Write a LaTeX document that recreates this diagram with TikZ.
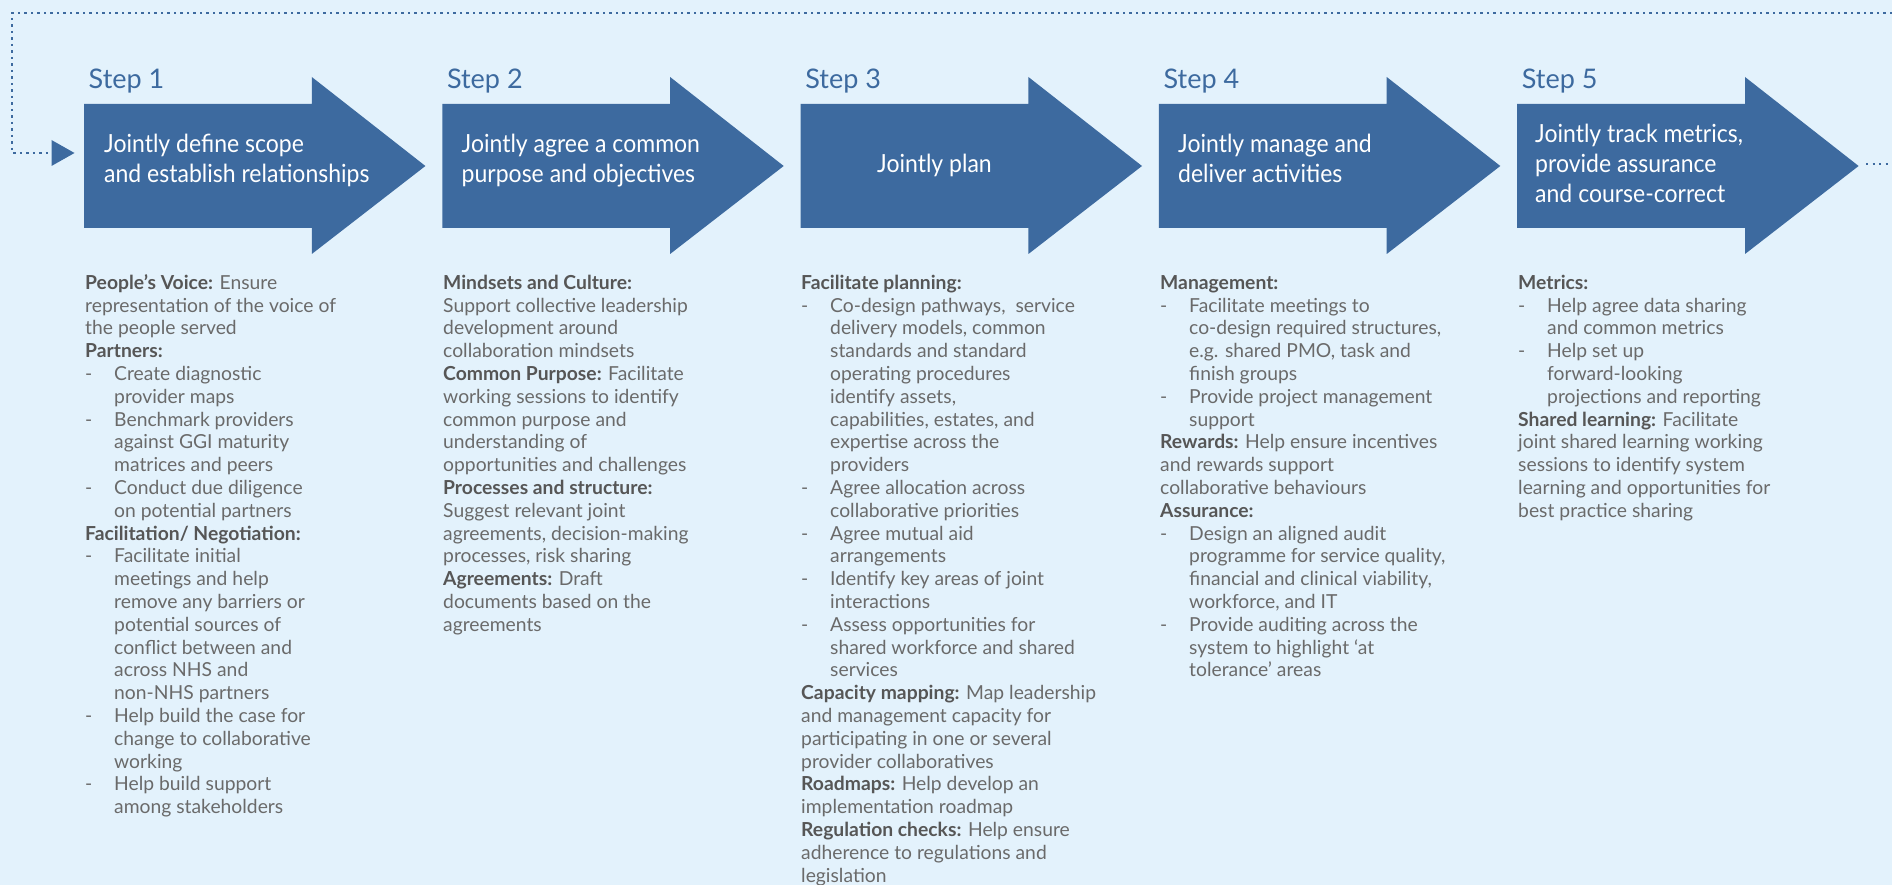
\documentclass[tikz,border=0pt]{standalone}
\usepackage{fontspec}
\setmainfont{Lato}
\newfontfamily\arrowfont[FakeStretch=0.92]{Lato}

\definecolor{bg}{HTML}{E3F2FC}
\definecolor{stepblue}{HTML}{3D6A9F}
\definecolor{bodygrey}{HTML}{6A6A6A}
\definecolor{headgrey}{HTML}{565656}

% bold lead-in of a paragraph
\newcommand\headtxt[1]{{\bfseries\color{headgrey}#1}}
% dash bullet and the hanging indent of its continuation lines
\newcommand\dashitem{\makebox[29pt][l]{-}}
\newcommand\indentline{\hspace*{29pt}}
% sets the height of a first line so the column tops line up
\newcommand\firstline{\rule{0pt}{15pt}}
\newcommand\firstarrowline{\rule{0pt}{19pt}}

\tikzset{
  dotline/.style={draw=stepblue, line width=2.1pt, dash pattern=on 2.1pt off 4.4pt},
  steplabel/.style={anchor=base west, inner sep=0pt, text=stepblue,
    font=\fontsize{27}{30}\selectfont},
  arrowtext/.style={anchor=north west, inner sep=0pt, align=left, text=white,
    font=\arrowfont\fontsize{25}{30}\selectfont},
  bodytext/.style={anchor=north west, inner sep=0pt, align=left, text=bodygrey,
    font=\fontsize{19.3}{22.8}\selectfont},
}

\begin{document}
\begin{tikzpicture}[x=1pt,y=-1pt]
  \useasboundingbox (0,0) rectangle (1892,885);
  \fill[bg] (0,0) rectangle (1892,885);

  % the five step arrows
  \foreach \i in {0,...,4}{
    \pgfmathsetmacro{\xo}{84+358.3*\i}
    \fill[stepblue] (\xo,104) -- ++(227.8,0) -- ++(0,-27) -- ++(113.6,89)
      -- ++(-113.6,88) -- ++(0,-26) -- (\xo,228) -- cycle;
  }

  % feedback loop back to the first step
  \coordinate (loopstart) at (1892,13);
  \coordinate (loopcorner1) at (12,13);
  \coordinate (loopcorner2) at (12,153);
  \coordinate (loopend) at (49,153);
  \draw[dotline] (loopstart) -- (loopcorner1) -- (loopcorner2) -- (loopend);
  \fill[stepblue] (51.5,140) -- (74.5,153) -- (51.5,166) -- cycle;

  % continuation after the last step
  \coordinate (tailstart) at (1866,164);
  \coordinate (tailend) at (1892,164);
  \draw[dotline] (tailstart) -- (tailend);

  % step labels
  \node[steplabel] (l1) at (88.5,89) {Step 1};
  \node[steplabel] (l2) at (446.8,89) {Step 2};
  \node[steplabel] (l3) at (805.1,89) {Step 3};
  \node[steplabel] (l4) at (1163.4,89) {Step 4};
  \node[steplabel] (l5) at (1521.7,89) {Step 5};

  % arrow captions
  \node[arrowtext] (a1) at (104,133) {\firstarrowline Jointly define scope\\and establish relationships};
  \node[arrowtext] (a2) at (461.5,133) {\firstarrowline Jointly agree a common\\purpose and objectives};
  \node[anchor=base west, inner sep=0pt, text=white,
    font=\arrowfont\fontsize{25}{30}\selectfont] (a3) at (877,173) {Jointly plan};
  \node[arrowtext] (a4) at (1178,133) {\firstarrowline Jointly manage and\\deliver activities};
  \node[arrowtext] (a5) at (1535,123) {\firstarrowline Jointly track metrics,\\provide assurance\\and course-correct};

  % activity columns
  \node[bodytext] (c1) at (85,274) {\firstline\headtxt{People’s Voice:} Ensure\\
    representation of the voice of\\
    the people served\\
    \headtxt{Partners:}\\
    \dashitem Create diagnostic\\
    \indentline provider maps\\
    \dashitem Benchmark providers\\
    \indentline against GGI maturity\\
    \indentline matrices and peers\\
    \dashitem Conduct due diligence\\
    \indentline on potential partners\\
    \headtxt{Facilitation/ Negotiation:}\\
    \dashitem Facilitate initial\\
    \indentline meetings and help\\
    \indentline remove any barriers or\\
    \indentline potential sources of\\
    \indentline conflict between and\\
    \indentline across NHS and\\
    \indentline non-NHS partners\\
    \dashitem Help build the case for\\
    \indentline change to collaborative\\
    \indentline working\\
    \dashitem Help build support\\
    \indentline among stakeholders};

  \node[bodytext] (c2) at (443,274) {\firstline\headtxt{Mindsets and Culture:}\\
    Support collective leadership\\
    development around\\
    collaboration mindsets\\
    \headtxt{Common Purpose:} Facilitate\\
    working sessions to identify\\
    common purpose and\\
    understanding of\\
    opportunities and challenges\\
    \headtxt{Processes and structure:}\\
    Suggest relevant joint\\
    agreements, decision-making\\
    processes, risk sharing\\
    \headtxt{Agreements:} Draft\\
    documents based on the\\
    agreements};

  \node[bodytext] (c3) at (801,274) {\firstline\headtxt{Facilitate planning:}\\
    \dashitem Co-design pathways,\ \ service\\
    \indentline delivery models, common\\
    \indentline standards and standard\\
    \indentline operating procedures\\
    \indentline identify assets,\\
    \indentline capabilities, estates, and\\
    \indentline expertise across the\\
    \indentline providers\\
    \dashitem Agree allocation across\\
    \indentline collaborative priorities\\
    \dashitem Agree mutual aid\\
    \indentline arrangements\\
    \dashitem Identify key areas of joint\\
    \indentline interactions\\
    \dashitem Assess opportunities for\\
    \indentline shared workforce and shared\\
    \indentline services\\
    \headtxt{Capacity mapping:} Map leadership\\
    and management capacity for\\
    participating in one or several\\
    provider collaboratives\\
    \headtxt{Roadmaps:} Help develop an\\
    implementation roadmap\\
    \headtxt{Regulation checks:} Help ensure\\
    adherence to regulations and\\
    legislation};

  \node[bodytext] (c4) at (1160,274) {\firstline\headtxt{Management:}\\
    \dashitem Facilitate meetings to\\
    \indentline co-design required structures,\\
    \indentline e.g. shared PMO, task and\\
    \indentline finish groups\\
    \dashitem Provide project management\\
    \indentline support\\
    \headtxt{Rewards:} Help ensure incentives\\
    and rewards support\\
    collaborative behaviours\\
    \headtxt{Assurance:}\\
    \dashitem Design an aligned audit\\
    \indentline programme for service quality,\\
    \indentline financial and clinical viability,\\
    \indentline workforce, and IT\\
    \dashitem Provide auditing across the\\
    \indentline system to highlight ‘at\\
    \indentline tolerance’ areas};

  \node[bodytext] (c5) at (1518,274) {\firstline\headtxt{Metrics:}\\
    \dashitem Help agree data sharing\\
    \indentline and common metrics\\
    \dashitem Help set up\\
    \indentline forward-looking\\
    \indentline projections and reporting\\
    \headtxt{Shared learning:} Facilitate\\
    joint shared learning working\\
    sessions to identify system\\
    learning and opportunities for\\
    best practice sharing};
\end{tikzpicture}
\end{document}
